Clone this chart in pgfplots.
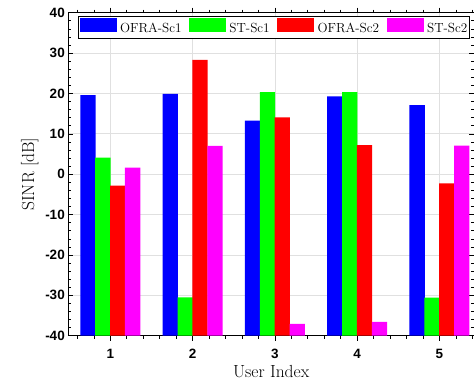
\documentclass[border=0pt]{standalone}
\usepackage{pgfplots}
\pgfplotsset{compat=1.18}
\usepackage{pgfplotstable}
\usepackage{fontspec}
\newfontfamily\helv{Liberation Sans}
\definecolor{mblue}{RGB}{0,0,255}
\definecolor{mgreen}{RGB}{0,255,0}
\definecolor{mred}{RGB}{255,0,0}
\definecolor{mmag}{RGB}{255,0,255}
\pgfplotstableread{
u OS1 ST1 OS2 ST2
1 19.6 4.1 -2.8 1.6
2 19.9 -30.5 28.3 7.0
3 13.3 20.3 14.1 -37.1
4 19.3 20.3 7.2 -36.6
5 17.1 -30.6 -2.3 7.1
}\data
\begin{document}
\begin{tikzpicture}
\begin{axis}[
  scale only axis, width=405.7pt, height=323pt,
  xmin=0.49, xmax=5.42, ymin=0, ymax=80,
  xtick={1,2,3,4,5}, xticklabels={1,2,3,4,5},
  ytick={0,10,...,80}, yticklabels={-40,-30,-20,-10,0,10,20,30,40},
  minor xtick={0.6,0.8,...,5.41},
  minor ytick={2,4,...,79},
  tick align=inside,
  major tick length=5pt, minor tick length=3pt,
  tick style={black, line width=0.6pt},
  axis line style={black, line width=0.7pt},
  grid=major, major grid style={black!12, line width=0.7pt},
  tick label style={font=\helv\bfseries\fontsize{13.5}{15}\selectfont},
  xticklabel style={yshift=-5pt},
  xlabel={User Index}, ylabel={SINR [dB]},
  label style={font=\fontsize{17.5}{20}\selectfont},
  ybar, bar width=0.186,
  legend columns=4,
  legend image code/.code={\fill[#1] (0pt,-3.7pt) rectangle (37pt,11pt);},
  legend style={at={(axis description cs:0.024,0.99)}, anchor=north west,
    draw=black, line width=0.7pt, inner xsep=1.5pt, inner ysep=1.5pt,
    font=\fontsize{13.2}{15}\selectfont,
    nodes={inner xsep=1pt, inner ysep=2.3pt},
    /tikz/every odd column/.append style={column sep=2.2pt},
    /tikz/every even column/.append style={column sep=6.8pt}},
]
\addplot[fill=mblue, draw=none, bar shift=-0.271] table[x=u, y expr=\thisrow{OS1}+40] {\data};
\addplot[fill=mgreen, draw=none, bar shift=-0.09] table[x=u, y expr=\thisrow{ST1}+40] {\data};
\addplot[fill=mred, draw=none, bar shift=0.09] table[x=u, y expr=\thisrow{OS2}+40] {\data};
\addplot[fill=mmag, draw=none, bar shift=0.272] table[x=u, y expr=\thisrow{ST2}+40] {\data};
\legend{OFRA-Sc1,ST-Sc1,OFRA-Sc2,ST-Sc2}
\end{axis}
\pgfresetboundingbox
\path[use as bounding box] ([shift={(-68.3pt,-47.3pt)}]current axis.south west) rectangle ([shift={(0pt,12.7pt)}]current axis.north east);
\end{tikzpicture}
\end{document}
